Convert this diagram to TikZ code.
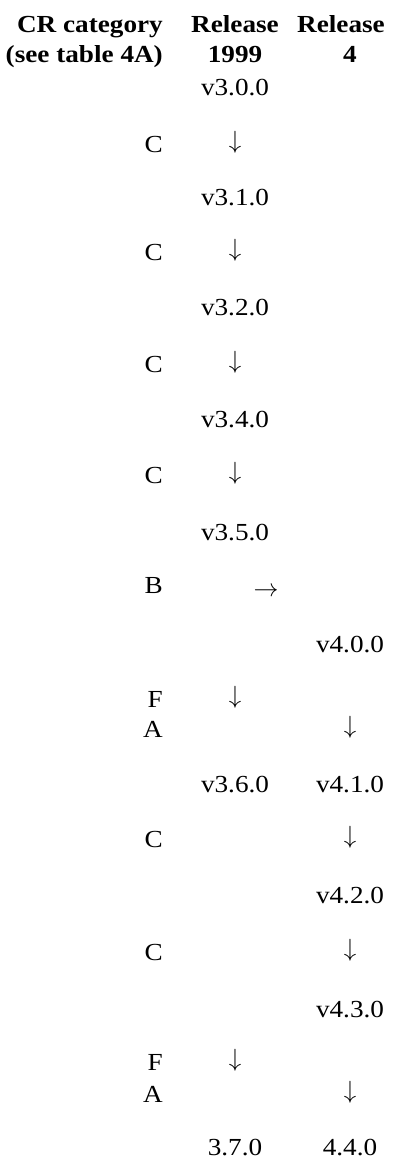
\documentclass[tikz,border=0pt]{standalone}
\usepackage{fontspec}
\setmainfont{Liberation Serif}[FakeStretch=1.11]
\usetikzlibrary{positioning}
\tikzset{
  cell/.style ={inner sep=0pt,font=\fontsize{24.5}{30}\selectfont},
  hdr/.style  ={cell,font=\fontsize{24.5}{30}\selectfont\bfseries},
  cat/.style  ={cell,anchor=base east},
  ver/.style  ={cell,anchor=base},
  arw/.style  ={cell,anchor=base,yshift=4pt},
  arr/.style  ={cell,anchor=base,yshift=-3pt},
}

\begin{document}
\begin{tikzpicture}[x=1pt, y=1pt]
\useasboundingbox (0,0) rectangle (395,-1159);

% column positions: category right edge, Release 1999 centre, Release 4 centre
\def\xC{163}
\def\xA{235}
\def\xB{350}

% ===== header =============================================================
\node[hdr,anchor=base east] (hCatA) at (\xC,-32) {CR category};
\node[hdr,anchor=base east] (hCatB) at (\xC,-62) {(see table 4A)};
\node[hdr,anchor=base] (h99A) at (\xA,-32) {Release};
\node[hdr,anchor=base] (h99B) at (\xA,-62) {1999};
\node[hdr,anchor=base] (h4A)  at (341,-32) {Release};
\node[hdr,anchor=base] (h4B)  at (\xB,-62) {4};

% ===== Release 1999 up to v3.5.0 ==========================================
\node[ver] (v30) at (\xA,-95)  {v3.0.0};
\node[ver] (v31) at (\xA,-205) {v3.1.0};
\node[ver] (v32) at (\xA,-315) {v3.2.0};
\node[ver] (v34) at (\xA,-427) {v3.4.0};
\node[ver] (v35) at (\xA,-540) {v3.5.0};
\foreach \y/\n in {152/1,260/2,372/3,483/4}{
  \node[cat] (c\n) at (\xC,-\y) {C};
  \node[arw] (d\n) at (\xA,-\y) {$\downarrow$};
}

% ===== branch to Release 4 ================================================
\node[cat] (cB) at (\xC,-593) {B};
\node[arr] (rB) at (266,-593) {$\rightarrow$};
\node[ver] (v40) at (\xB,-652) {v4.0.0};

\node[cat] (cF1) at (\xC,-707) {F};
\node[arw] (dF1) at (\xA,-707) {$\downarrow$};
\node[cat] (cA1) at (\xC,-737) {A};
\node[arw] (dA1) at (\xB,-737) {$\downarrow$};

\node[ver] (v36) at (\xA,-792) {v3.6.0};
\node[ver] (v41) at (\xB,-792) {v4.1.0};

% ===== Release 4 onwards ==================================================
\node[cat] (c5) at (\xC,-847) {C};
\node[arw] (d5) at (\xB,-847) {$\downarrow$};
\node[ver] (v42) at (\xB,-903) {v4.2.0};
\node[cat] (c6) at (\xC,-960) {C};
\node[arw] (d6) at (\xB,-960) {$\downarrow$};
\node[ver] (v43) at (\xB,-1017) {v4.3.0};

\node[cat] (cF2) at (\xC,-1070) {F};
\node[arw] (dF2) at (\xA,-1070) {$\downarrow$};
\node[cat] (cA2) at (\xC,-1102) {A};
\node[arw] (dA2) at (\xB,-1102) {$\downarrow$};

\node[ver] (v37) at (\xA,-1155) {3.7.0};
\node[ver] (v44) at (\xB,-1155) {4.4.0};
\end{tikzpicture}
\end{document}
